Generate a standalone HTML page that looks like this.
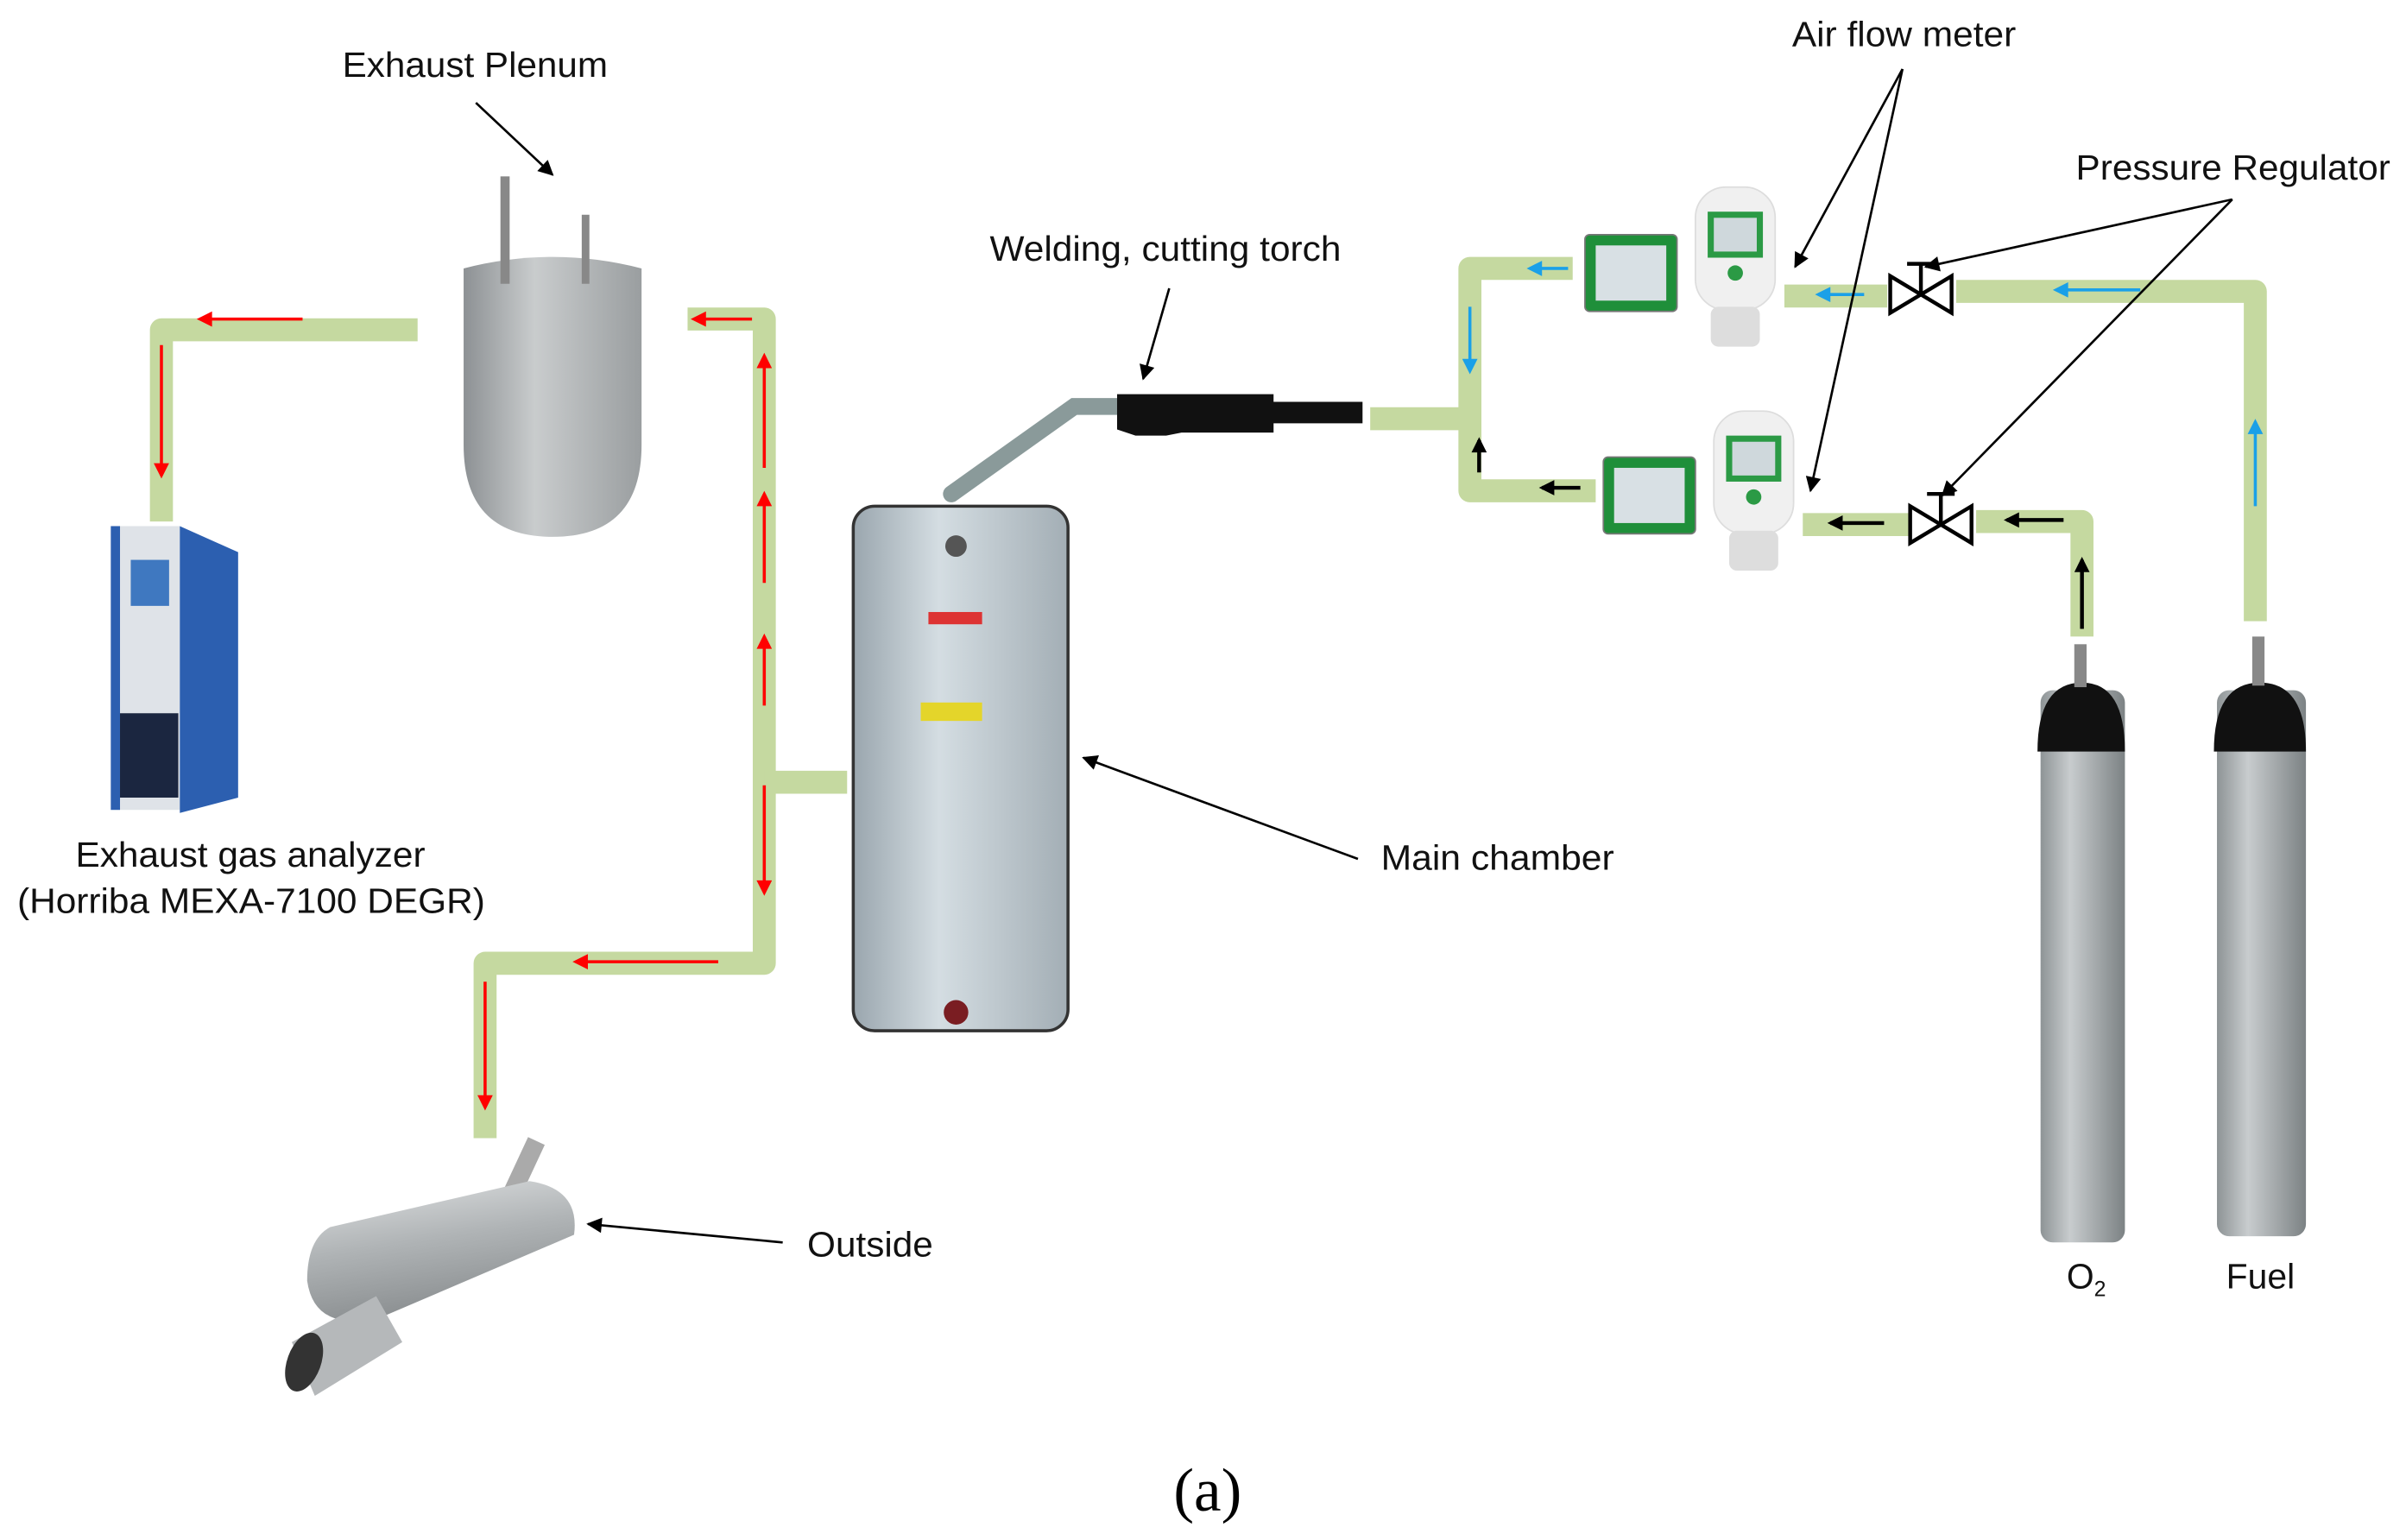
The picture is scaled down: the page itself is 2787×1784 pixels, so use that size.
<!DOCTYPE html>
<html><head><meta charset="utf-8"><style>html,body{margin:0;padding:0;background:#fff}svg{display:block}</style></head>
<body>
<svg width="2787" height="1784" viewBox="0 0 1568 1004" xmlns="http://www.w3.org/2000/svg" font-family="Liberation Sans, sans-serif">
<defs>
<linearGradient id="cyl" x1="0" x2="1"><stop offset="0" stop-color="#8e9496"/><stop offset="0.35" stop-color="#c8ccce"/><stop offset="1" stop-color="#7c8284"/></linearGradient>
<linearGradient id="tank" x1="0" x2="1"><stop offset="0" stop-color="#9aa6ae"/><stop offset="0.4" stop-color="#d4dde2"/><stop offset="1" stop-color="#a3aeb5"/></linearGradient>
<linearGradient id="plen" x1="0" x2="1"><stop offset="0" stop-color="#8d9194"/><stop offset="0.4" stop-color="#c9cccd"/><stop offset="1" stop-color="#9a9ea0"/></linearGradient>
<linearGradient id="muf" x1="0" y1="0" x2="0.3" y2="1"><stop offset="0" stop-color="#e0e2e3"/><stop offset="0.5" stop-color="#b0b4b6"/><stop offset="1" stop-color="#8a8e90"/></linearGradient>
<marker id="ar" viewBox="0 0 10 10" markerWidth="12" markerHeight="10" refX="9" refY="5" orient="auto" markerUnits="userSpaceOnUse"><path d="M0,0 L10,5 L0,10z" fill="#000"/></marker>
<marker id="rr" viewBox="0 0 10 10" markerWidth="12" markerHeight="10" refX="8" refY="5" orient="auto" markerUnits="userSpaceOnUse"><path d="M0,0 L10,5 L0,10z" fill="#f00"/></marker>
<marker id="bb" viewBox="0 0 10 10" markerWidth="12" markerHeight="10" refX="8" refY="5" orient="auto" markerUnits="userSpaceOnUse"><path d="M0,0 L10,5 L0,10z" fill="#1aa0e8"/></marker>
<marker id="kk" viewBox="0 0 10 10" markerWidth="12" markerHeight="10" refX="8" refY="5" orient="auto" markerUnits="userSpaceOnUse"><path d="M0,0 L10,5 L0,10z" fill="#000"/></marker>
</defs>
<g fill="none" stroke="#c5d9a0" stroke-width="15" stroke-linejoin="round">
<path d="M272,215 H105 V340"/>
<path d="M448,208 H498 V628 H316 V742"/>
<path d="M498,510 H552"/>
<path d="M893,273 H958"/>
<path d="M1025,175 H958 V320 H1040"/>
<path d="M1163,193 H1230"/>
<path d="M1275,190 H1470 V405"/>
<path d="M1175,342 H1245"/>
<path d="M1288,340 H1357 V415"/>
</g>
<g stroke="#f00" stroke-width="2" marker-end="url(#rr)">
<line x1="197" y1="208" x2="130" y2="208"/><line x1="105" y1="225" x2="105" y2="310"/>
<line x1="490" y1="208" x2="452" y2="208"/>
<line x1="498" y1="305" x2="498" y2="232"/><line x1="498" y1="380" x2="498" y2="322"/><line x1="498" y1="460" x2="498" y2="415"/>
<line x1="498" y1="512" x2="498" y2="582"/><line x1="468" y1="627" x2="375" y2="627"/><line x1="316" y1="640" x2="316" y2="722"/>
</g>
<g stroke="#1aa0e8" stroke-width="2" marker-end="url(#bb)">
<line x1="1022" y1="175" x2="997" y2="175"/><line x1="958" y1="200" x2="958" y2="242"/>
<line x1="1215" y1="192" x2="1185" y2="192"/><line x1="1395" y1="189" x2="1340" y2="189"/><line x1="1470" y1="330" x2="1470" y2="275"/>
</g>
<g stroke="#000" stroke-width="2.5" marker-end="url(#kk)">
<line x1="964" y1="308" x2="964" y2="287"/><line x1="1030" y1="318" x2="1005" y2="318"/>
<line x1="1228" y1="341" x2="1193" y2="341"/><line x1="1345" y1="339" x2="1308" y2="339"/><line x1="1357" y1="410" x2="1357" y2="365"/>
</g>
<g fill="#fff" stroke="#000" stroke-width="2.5">
<path d="M1232,180 L1272,204 L1272,180 L1232,204z"/><line x1="1252" y1="192" x2="1252" y2="172"/><line x1="1243" y1="172" x2="1261" y2="172"/>
<path d="M1245,330 L1285,354 L1285,330 L1245,354z"/><line x1="1265" y1="342" x2="1265" y2="322"/><line x1="1256" y1="322" x2="1274" y2="322"/>
</g>
<g>
<rect x="1033" y="153" width="60" height="50" rx="3" fill="#1f8f3a" stroke="#777"/><rect x="1040" y="160" width="46" height="36" fill="#d8e0e4"/>
<rect x="1045" y="298" width="60" height="50" rx="3" fill="#1f8f3a" stroke="#777"/><rect x="1052" y="305" width="46" height="36" fill="#d8e0e4"/>
<rect x="1105" y="122" width="52" height="80" rx="20" fill="#f0f0f0" stroke="#ddd"/><rect x="1113" y="138" width="36" height="30" fill="#2b9a45"/><rect x="1117" y="142" width="28" height="22" fill="#cfd8dc"/><circle cx="1131" cy="178" r="5" fill="#2b9a45"/><rect x="1115" y="200" width="32" height="26" rx="5" fill="#ddd"/>
<rect x="1117" y="268" width="52" height="80" rx="20" fill="#f0f0f0" stroke="#ddd"/><rect x="1125" y="284" width="36" height="30" fill="#2b9a45"/><rect x="1129" y="288" width="28" height="22" fill="#cfd8dc"/><circle cx="1143" cy="324" r="5" fill="#2b9a45"/><rect x="1127" y="346" width="32" height="26" rx="5" fill="#ddd"/>
</g>
<path d="M302,175 Q360,160 418,175 V290 Q418,350 360,350 Q302,350 302,290z" fill="url(#plen)"/>
<rect x="326" y="115" width="6" height="70" fill="#888"/><rect x="379" y="140" width="5" height="45" fill="#888"/>
<rect x="72" y="343" width="45" height="185" fill="#dfe3e8"/><path d="M117,343 L155,360 V520 L117,530z" fill="#2c5fb0"/><rect x="72" y="343" width="6" height="185" fill="#2c5fb0"/><rect x="85" y="365" width="25" height="30" fill="#3f78c0"/><rect x="78" y="465" width="38" height="55" fill="#1b2640"/>
<rect x="556" y="330" width="140" height="342" rx="14" fill="url(#tank)" stroke="#333" stroke-width="2"/>
<circle cx="623" cy="356" r="7" fill="#555"/><circle cx="623" cy="660" r="8" fill="#7a1d22"/><rect x="605" y="399" width="35" height="8" fill="#d33"/><rect x="600" y="458" width="40" height="12" fill="#e4d52a"/>
<path d="M620,322 L700,265 L730,265" stroke="#8a9a9a" stroke-width="11" fill="none" stroke-linecap="round"/>
<path d="M728,257 H830 V262 H888 V276 H830 V282 H770 L760,284 L740,284 L728,280z" fill="#111"/>
<rect x="1330" y="450" width="55" height="360" rx="8" fill="url(#cyl)"/><path d="M1328,490 Q1328,445 1357,445 Q1385,445 1385,490z" fill="#111"/><rect x="1352" y="420" width="8" height="28" fill="#888"/>
<rect x="1445" y="450" width="58" height="356" rx="8" fill="url(#cyl)"/><path d="M1443,490 Q1443,445 1473,445 Q1503,445 1503,490z" fill="#111"/><rect x="1468" y="415" width="8" height="32" fill="#888"/>
<!-- muffler -->
<rect x="335" y="742" width="12" height="40" fill="#aaa" transform="rotate(25 341 762)"/>
<path d="M215,800 L345,770 Q378,775 374,805 L250,858 Q205,870 200,835 Q200,808 215,800z" fill="url(#muf)"/>
<path d="M190,875 L245,845 L262,875 L205,910z" fill="#b5b8ba"/><ellipse cx="198" cy="888" rx="11" ry="20" fill="#333" transform="rotate(20 198 888)"/>
<g stroke="#000" stroke-width="1.5" marker-end="url(#ar)">
<line x1="310" y1="67" x2="360" y2="114"/><line x1="762" y1="188" x2="745" y2="247"/>
<line x1="1240" y1="45" x2="1170" y2="174"/><line x1="1240" y1="45" x2="1180" y2="320"/>
<line x1="1455" y1="130" x2="1255" y2="174"/><line x1="1455" y1="130" x2="1266" y2="323"/>
<line x1="885" y1="560" x2="706" y2="494"/><line x1="510" y1="810" x2="383" y2="798"/>
</g>
<g font-size="23" fill="#111">
<text x="223" y="50" textLength="173" lengthAdjust="spacingAndGlyphs">Exhaust Plenum</text>
<text x="1168" y="30" textLength="146" lengthAdjust="spacingAndGlyphs">Air flow meter</text>
<text x="1353" y="117" textLength="205" lengthAdjust="spacingAndGlyphs">Pressure Regulator</text>
<text x="645" y="170" textLength="229" lengthAdjust="spacingAndGlyphs">Welding, cutting torch</text>
<text x="49" y="565" textLength="228" lengthAdjust="spacingAndGlyphs">Exhaust gas analyzer</text>
<text x="11" y="595" textLength="305" lengthAdjust="spacingAndGlyphs">(Horriba MEXA-7100 DEGR)</text>
<text x="900" y="567" textLength="152" lengthAdjust="spacingAndGlyphs">Main chamber</text>
<text x="526" y="819" textLength="82" lengthAdjust="spacingAndGlyphs">Outside</text>
<text x="1347" y="840">O<tspan font-size="14" dy="5">2</tspan></text>
<text x="1451" y="840">Fuel</text>
</g>
<text x="787" y="985" font-family="Liberation Serif, serif" font-size="40" text-anchor="middle">(a)</text>
</svg>
</body></html>
